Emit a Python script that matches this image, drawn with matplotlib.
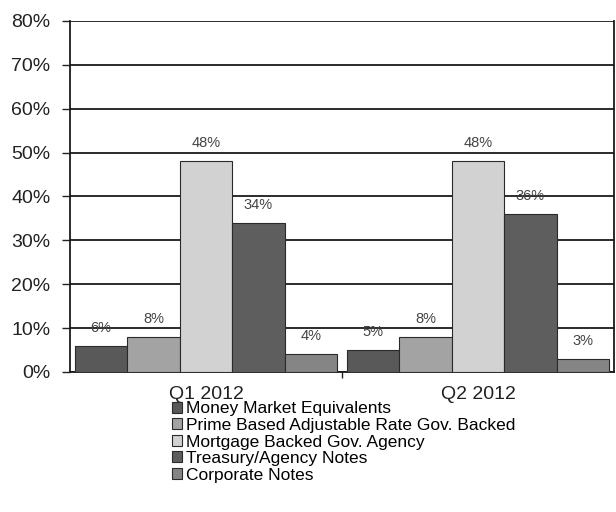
import matplotlib.pyplot as plt
import numpy as np

plt.rcParams['font.family'] = ['Liberation Sans', 'DejaVu Sans']

quarters = ['Q1 2012', 'Q2 2012']
series = [
    'Money Market Equivalents',
    'Prime Based Adjustable Rate Gov. Backed',
    'Mortgage Backed Gov. Agency',
    'Treasury/Agency Notes',
    'Corporate Notes',
]
values = [
    [6, 5],
    [8, 8],
    [48, 48],
    [34, 36],
    [4, 3],
]
colors = ['#595959', '#a3a3a3', '#d2d2d2', '#5e5e5e', '#858585']

fig = plt.figure(figsize=(6.16, 5.12), dpi=100)
ax = fig.add_axes([0.1136, 0.2735, 0.8831, 0.6855])

x = np.arange(len(quarters))
width = 0.193
for i, (name, vals, c) in enumerate(zip(series, values, colors)):
    pos = x + (i - 2) * width
    ax.bar(pos, vals, width, color=c, edgecolor='#2a2a2a', linewidth=0.8,
           label=name, zorder=3)
    for px, v in zip(pos, vals):
        ax.annotate(f'{v}%', (px, v), xytext=(0, 13), textcoords='offset points',
                    ha='center', va='center', fontsize=10.5, color='#444444')

ax.set_ylim(0, 80)
ax.set_xlim(-0.5, 1.5)
ax.set_yticks(range(0, 81, 10))
ax.set_yticklabels([f'{t}%' for t in range(0, 81, 10)], fontsize=14, color='#222')
ax.set_xticks(x)
ax.set_xticklabels(quarters, fontsize=14, color='#222')
ax.tick_params(axis='x', length=0, pad=10)
ax.set_xticks([0.5], minor=True)
ax.tick_params(axis='x', which='minor', length=4, width=1, color='#222')
ax.tick_params(axis='y', length=6, width=1, color='#222', pad=8)

ax.grid(axis='y', color='#1a1a1a', linewidth=1.3, zorder=0)
for side in ['left', 'right', 'bottom']:
    ax.spines[side].set_color('#1a1a1a')
    ax.spines[side].set_linewidth(1.3)
ax.spines['top'].set_visible(False)

fig.legend(loc='upper left', bbox_to_anchor=(0.279, 0.216), frameon=False,
           fontsize=12.5, handlelength=0.6, handleheight=0.6, handletextpad=0.2,
           labelspacing=0.09, borderpad=0, borderaxespad=0)

fig.savefig('out.png', dpi=100)
